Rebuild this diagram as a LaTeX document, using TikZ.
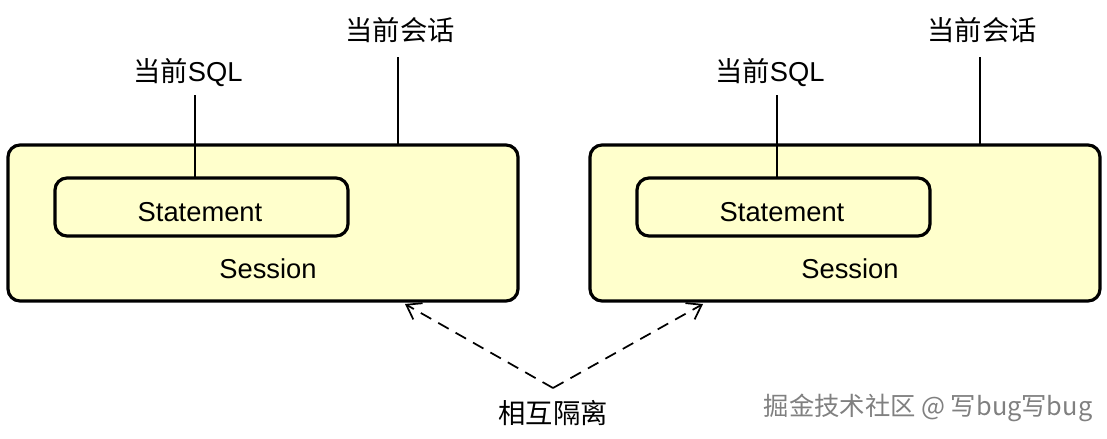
\documentclass[tikz,border=0pt]{standalone}
\usepackage{fontspec}
\setmainfont{Liberation Sans}
\newfontfamily\cjk{Noto Sans CJK SC}
\usetikzlibrary{arrows.meta}
\definecolor{boxfill}{HTML}{FFFFCC}
\begin{document}
\begin{tikzpicture}[x=0.75pt,y=-0.75pt,
  box/.style={draw,line width=2.4pt,rounded corners=9pt,fill=boxfill},
  lbl/.style={font=\fontsize{20.5}{24}\selectfont,inner sep=0pt},
  clbl/.style={font=\cjk\fontsize{20.5}{24}\selectfont,inner sep=0pt},
  ln/.style={line width=1.2pt},
  isoarrow/.style={line width=1.3pt,dash pattern=on 9pt off 6pt,-{Straight Barb[length=10pt,width=14pt,line width=1.3pt]}}]
\useasboundingbox (0,0) rectangle (1107,439);
\foreach \d/\n in {0/L,582/R}{
  \node[box,minimum width=510*0.75pt,minimum height=156*0.75pt] (sess\n) at (263+\d,223) {};
  \node[box,minimum width=293*0.75pt,minimum height=58*0.75pt] (st\n) at (201.5+\d,207) {};
  \node[lbl] (stt\n) at (200+\d,212) {Statement};
  \node[lbl] (sst\n) at (268+\d,269) {Session};
  \node[clbl] (sql\n) at (188+\d,73) {当前\fontspec{Liberation Sans}SQL};
  \node[clbl] (hh\n) at (400+\d,30) {当前会话};
  \coordinate (a\n) at (195+\d,95);
  \draw[ln] (a\n) -- (195+\d,178);
  \coordinate (b\n) at (398+\d,57);
  \draw[ln] (b\n) -- (398+\d,145);
}
\node[clbl] (iso) at (553,413) {相互隔离};
\coordinate (v) at (553,388);
\coordinate (tl) at (405,304);
\coordinate (tr) at (703,304);
\draw[isoarrow] (v) -- (tl);
\draw[isoarrow] (v) -- (tr);
\node[clbl,font=\cjk\fontsize{19}{22}\selectfont,text=gray] (wm) at (928,408) {掘金技术社区 @ 写bug写bug};
\end{tikzpicture}
\end{document}
